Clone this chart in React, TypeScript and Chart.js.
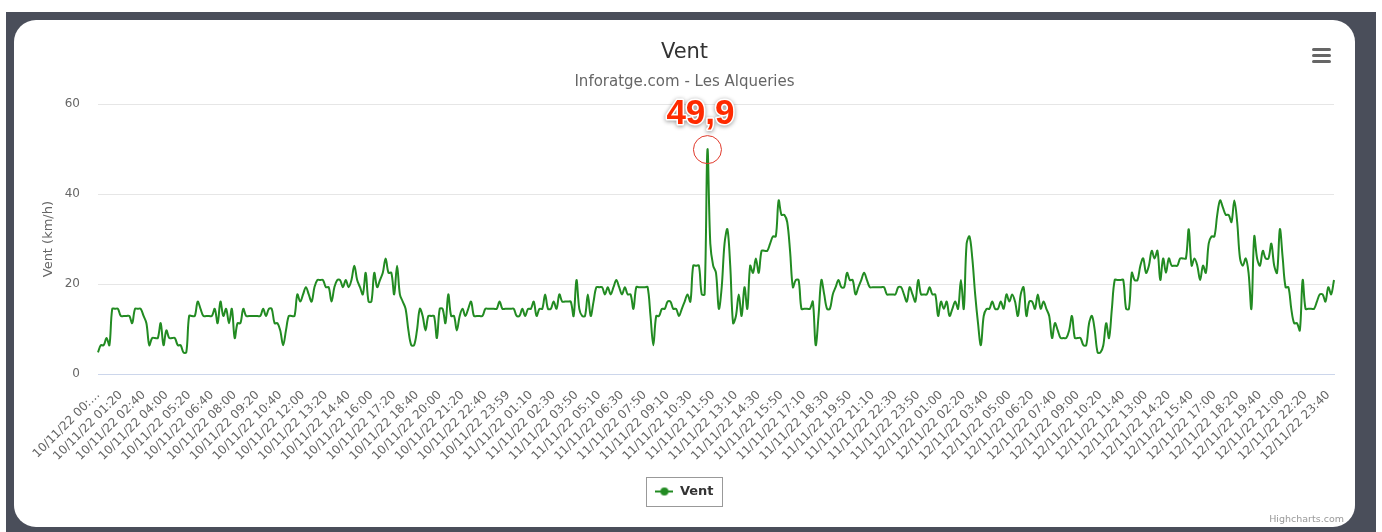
import React, { useEffect, useRef } from 'react';
import { Chart, registerables } from 'chart.js';

Chart.register(...registerables);

const FONT = '"DejaVu Sans", Verdana, sans-serif';
Chart.defaults.font.family = FONT;

const TITLE = 'Vent';
const SUBTITLE = 'Inforatge.com - Les Alqueries';
const SERIES_NAME = 'Vent';
const Y_AXIS_TITLE = 'Vent (km/h)';
const Y_MIN = 0;
const Y_MAX = 60;
const Y_STEP = 20;
const LABEL_STEP = 8;

const TICK_LABELS = [
  '10/11/22 00:…', '10/11/22 01:20', '10/11/22 02:40', '10/11/22 04:00', '10/11/22 05:20',
  '10/11/22 06:40', '10/11/22 08:00', '10/11/22 09:20', '10/11/22 10:40', '10/11/22 12:00',
  '10/11/22 13:20', '10/11/22 14:40', '10/11/22 16:00', '10/11/22 17:20', '10/11/22 18:40',
  '10/11/22 20:00', '10/11/22 21:20', '10/11/22 22:40', '10/11/22 23:59',
  '11/11/22 01:10', '11/11/22 02:30', '11/11/22 03:50', '11/11/22 05:10', '11/11/22 06:30',
  '11/11/22 07:50', '11/11/22 09:10', '11/11/22 10:30', '11/11/22 11:50', '11/11/22 13:10',
  '11/11/22 14:30', '11/11/22 15:50', '11/11/22 17:10', '11/11/22 18:30', '11/11/22 19:50',
  '11/11/22 21:10', '11/11/22 22:30', '11/11/22 23:50',
  '12/11/22 01:00', '12/11/22 02:20', '12/11/22 03:40', '12/11/22 05:00', '12/11/22 06:20',
  '12/11/22 07:40', '12/11/22 09:00', '12/11/22 10:20', '12/11/22 11:40', '12/11/22 13:00',
  '12/11/22 14:20', '12/11/22 15:40', '12/11/22 17:00', '12/11/22 18:20', '12/11/22 19:40',
  '12/11/22 21:00', '12/11/22 22:20', '12/11/22 23:40',
];

// Wind speed (km/h), 10-minute readings
const VALUES_DAY1 = [
  4.8, 6.4, 6.4, 8.0, 6.4, 14.5, 14.5, 14.5, 12.9, 12.9,
  12.9, 12.9, 11.3, 14.5, 14.5, 14.5, 12.9, 11.3, 6.4, 8.0,
  8.0, 8.0, 11.3, 6.4, 9.7, 8.0, 8.0, 8.0, 6.4, 6.4,
  4.8, 4.8, 12.9, 12.9, 12.9, 16.1, 14.5, 12.9, 12.9, 12.9,
  12.9, 14.5, 11.3, 16.1, 12.9, 14.5, 11.3, 14.5, 8.0, 11.3,
  11.3, 14.5, 12.9, 12.9, 12.9, 12.9, 12.9, 12.9, 14.5, 12.9,
  14.5, 14.5, 11.3, 11.3, 9.7, 6.4, 9.7, 12.9, 12.9, 12.9,
  17.7, 16.1, 17.7, 19.3, 17.7, 16.1, 19.3, 20.9, 20.9, 20.9,
  19.3, 19.3, 16.1, 19.3, 20.9, 20.9, 19.3, 20.9, 19.3, 20.9,
  24.1, 20.9, 19.3, 17.7, 22.5, 16.1, 16.1, 22.5, 19.3, 20.9,
  22.5, 25.7, 22.5, 22.5, 17.7, 24.1, 17.7, 16.1, 14.5, 9.7,
  6.4, 6.4, 9.7, 14.5, 12.9, 9.7, 12.9, 12.9, 12.9, 8.0,
  14.5, 14.5, 11.3, 17.7, 12.9, 12.9, 9.7, 12.9, 14.5, 12.9,
  14.5, 16.1, 12.9, 12.9, 12.9, 12.9, 14.5, 14.5, 14.5, 14.5,
  14.5, 16.1, 14.5, 14.5, 14.5,
];
const VALUES_DAY2 = [
  14.5, 14.5, 12.9, 12.9, 14.5, 12.9, 14.5, 14.5, 16.1, 12.9,
  14.5, 14.5, 17.7, 14.5, 14.5, 16.1, 14.5, 17.7, 16.1, 16.1,
  16.1, 16.1, 12.9, 20.9, 14.5, 12.9, 12.9, 17.7, 12.9, 16.1,
  19.3, 19.3, 19.3, 17.7, 19.3, 17.7, 19.3, 20.9, 19.3, 17.7,
  19.3, 17.7, 17.7, 14.5, 19.3, 19.3, 19.3, 19.3, 19.3, 12.9,
  6.4, 12.9, 12.9, 14.5, 14.5, 16.1, 16.1, 14.5, 14.5, 12.9,
  14.5, 16.1, 17.7, 16.1, 24.1, 24.1, 24.1, 17.7, 17.7, 49.9,
  29.0, 24.1, 22.5, 14.5, 19.3, 29.0, 32.2, 24.1, 11.3, 12.9,
  17.7, 12.9, 19.3, 14.5, 24.1, 22.5, 25.7, 22.5, 27.4, 27.4,
  27.4, 29.0, 30.6, 30.6, 38.6, 35.4, 35.4, 33.8, 27.4, 19.3,
  20.9, 20.9, 14.5, 14.5, 14.5, 14.5, 16.1, 6.4, 12.9, 20.9,
  17.7, 14.5, 14.5, 17.7, 19.3, 20.9, 19.3, 19.3, 22.5, 20.9,
  20.9, 17.7, 19.3, 20.9, 22.5, 20.9, 19.3, 19.3, 19.3, 19.3,
  19.3, 19.3, 17.7, 17.7, 17.7, 17.7, 19.3, 19.3, 17.7, 16.1,
  19.3, 17.7, 16.1, 20.9,
];
const VALUES_DAY3 = [
  17.7, 17.7, 17.7, 19.3, 17.7, 17.7, 12.9, 16.1, 14.5, 16.1,
  12.9, 14.5, 16.1, 14.5, 20.9, 14.5, 29.0, 30.6, 25.7, 17.7,
  11.3, 6.4, 12.9, 14.5, 14.5, 16.1, 14.5, 14.5, 16.1, 14.5,
  17.7, 16.1, 17.7, 16.1, 12.9, 17.7, 19.3, 12.9, 16.1, 16.1,
  14.5, 17.7, 14.5, 16.1, 14.5, 12.9, 8.0, 11.3, 9.7, 8.0,
  8.0, 8.0, 9.7, 12.9, 8.0, 8.0, 8.0, 6.4, 6.4, 11.3,
  12.9, 9.7, 4.8, 4.8, 6.4, 11.3, 8.0, 14.5, 20.9, 20.9,
  20.9, 20.9, 14.5, 14.5, 22.5, 20.9, 20.9, 24.1, 25.7, 22.5,
  24.1, 27.4, 25.7, 27.4, 20.9, 25.7, 22.5, 25.7, 24.1, 24.1,
  24.1, 25.7, 25.7, 25.7, 32.2, 24.1, 25.7, 24.1, 20.9, 24.1,
  22.5, 29.0, 30.6, 30.6, 35.4, 38.6, 37.0, 35.4, 35.4, 33.8,
  38.6, 33.8, 25.7, 24.1, 25.7, 22.5, 14.5, 30.6, 25.7, 24.1,
  27.4, 25.7, 25.7, 29.0, 24.1, 22.5, 32.2, 25.7, 19.3, 19.3,
  14.5, 11.3, 11.3, 9.7, 20.9, 14.5, 14.5, 14.5, 14.5, 16.1,
  17.7, 17.7, 16.1, 19.3, 17.7, 20.9,
];

const VALUES = [...VALUES_DAY1, ...VALUES_DAY2, ...VALUES_DAY3];
const CATEGORIES = VALUES.map((_, i) =>
  i % LABEL_STEP === 0 && TICK_LABELS[i / LABEL_STEP] !== undefined ? TICK_LABELS[i / LABEL_STEP] : ''
);
const PEAK_INDEX = VALUES.reduce((best, v, i) => (v > VALUES[best] ? i : best), 0);

const GREEN = '#228b22';
const RED = '#ff2a00';

function makeLegendSymbol(): HTMLCanvasElement {
  const c = document.createElement('canvas');
  c.width = 18;
  c.height = 10;
  const g = c.getContext('2d')!;
  g.strokeStyle = GREEN;
  g.lineWidth = 2;
  g.beginPath();
  g.moveTo(0, 5);
  g.lineTo(18, 5);
  g.stroke();
  g.fillStyle = GREEN;
  g.beginPath();
  g.arc(9, 5, 4, 0, Math.PI * 2);
  g.fill();
  return c;
}

const peakLabelPlugin = {
  id: 'peakLabel',
  afterDatasetsDraw(chart: any) {
    const meta = chart.getDatasetMeta(0);
    const pt = meta.data[PEAK_INDEX];
    if (!pt) return;
    const ctx = chart.ctx as CanvasRenderingContext2D;
    const text = VALUES[PEAK_INDEX].toFixed(1).replace('.', ',');
    const x = pt.x - 7;
    const y = pt.y - 35;
    ctx.save();
    ctx.font = 'bold 35px "Liberation Sans", Arial, sans-serif';
    ctx.textAlign = 'center';
    ctx.textBaseline = 'middle';
    ctx.lineJoin = 'round';
    ctx.shadowColor = 'rgba(0,0,0,0.45)';
    ctx.shadowBlur = 4;
    ctx.shadowOffsetY = 1;
    ctx.lineWidth = 3;
    ctx.strokeStyle = '#ffffff';
    ctx.strokeText(text, x, y);
    ctx.shadowColor = 'transparent';
    ctx.fillStyle = RED;
    ctx.fillText(text, x, y);
    ctx.restore();
  },
};

const legendBoxPlugin = {
  id: 'legendBox',
  afterDraw(chart: any) {
    const lg = chart.legend;
    if (!lg || !lg.legendHitBoxes || !lg.legendHitBoxes.length) return;
    const hb = lg.legendHitBoxes[0];
    const ctx = chart.ctx as CanvasRenderingContext2D;
    const cy = hb.top + hb.height / 2;
    const left = Math.round(hb.left - 9) + 0.5;
    const top = Math.round(cy - 14.5) + 0.5;
    const w = Math.round(hb.width + 18);
    ctx.save();
    ctx.strokeStyle = '#999999';
    ctx.lineWidth = 1;
    ctx.strokeRect(left, top, w, 29);
    ctx.restore();
  },
};

export default function App() {
  const ref = useRef<HTMLCanvasElement | null>(null);

  useEffect(() => {
    if (!ref.current) return;
    const symbol = makeLegendSymbol();
    const chart = new Chart(ref.current, {
      type: 'line',
      data: {
        labels: CATEGORIES,
        datasets: [
          {
            label: SERIES_NAME,
            data: VALUES,
            borderColor: GREEN,
            backgroundColor: GREEN,
            borderWidth: 2,
            tension: 0.35,
            fill: false,
            pointRadius: VALUES.map((_, i) => (i === PEAK_INDEX ? 14 : 0)),
            pointHoverRadius: 0,
            pointBorderColor: '#e0392b',
            pointBackgroundColor: 'rgba(0,0,0,0)',
            pointBorderWidth: 1,
          },
        ],
      },
      options: {
        animation: false,
        responsive: false,
        maintainAspectRatio: false,
        events: [],
        layout: { padding: { left: 21, right: 21, top: 0, bottom: 19 } },
        plugins: {
          title: {
            display: true,
            text: TITLE,
            color: '#333333',
            font: { family: FONT, size: 21, weight: 'normal' },
            padding: { top: 20, bottom: 8 },
          },
          subtitle: {
            display: true,
            text: SUBTITLE,
            color: '#666666',
            font: { family: FONT, size: 15, weight: 'normal' },
            padding: { top: 0, bottom: 13 },
          },
          legend: {
            position: 'bottom',
            labels: {
              usePointStyle: true,
              pointStyleWidth: 18,
              padding: 10,
              color: '#333333',
              font: { family: FONT, size: 13, weight: 'bold' },
              generateLabels: () => [
                {
                  text: SERIES_NAME,
                  pointStyle: symbol,
                  fillStyle: GREEN,
                  strokeStyle: GREEN,
                  lineWidth: 0,
                  hidden: false,
                  datasetIndex: 0,
                  fontColor: '#333333',
                },
              ],
            },
          },
          tooltip: { enabled: false },
        },
        scales: {
          x: {
            grid: { display: false },
            border: { display: true, color: '#ccd6eb', width: 1 },
            ticks: {
              autoSkip: false,
              maxRotation: 45,
              minRotation: 45,
              color: '#666666',
              font: { family: FONT, size: 12 },
              padding: 6,
            },
            afterFit: (s: any) => {
              s.height = 101;
            },
          },
          y: {
            min: Y_MIN,
            max: Y_MAX,
            ticks: { stepSize: Y_STEP, color: '#666666', font: { family: FONT, size: 12 }, padding: 18 },
            grid: {
              drawTicks: false,
              color: (c: any) => (c.tick && c.tick.value === 0 ? '#ccd6eb' : '#e6e6e6'),
            },
            border: { display: false },
            title: {
              display: true,
              text: Y_AXIS_TITLE,
              color: '#666666',
              font: { family: FONT, size: 13 },
              padding: { top: 6, bottom: 0 },
            },
            afterFit: (s: any) => {
              s.width = 63;
            },
          },
        },
      } as any,
      plugins: [peakLabelPlugin, legendBoxPlugin],
    });
    return () => chart.destroy();
  }, []);

  return (
    <div style={{ position: 'absolute', left: 0, top: 0, width: 1382, height: 532, background: '#ffffff', overflow: 'hidden' }}>
      <div style={{ position: 'absolute', left: 6, top: 12, width: 1370, height: 520, background: '#4a4e5a' }} />
      <div
        style={{
          position: 'absolute',
          left: 14,
          top: 20,
          width: 1341,
          height: 507,
          background: '#ffffff',
          borderRadius: 22,
          overflow: 'hidden',
        }}
      >
        <canvas ref={ref} width={1341} height={507} style={{ display: 'block', width: 1341, height: 507 }} />
        <div style={{ position: 'absolute', left: 1298, top: 28, width: 19, height: 15 }}>
          {[0, 6, 12].map((t) => (
            <div
              key={t}
              style={{ position: 'absolute', left: 0, top: t, width: 19, height: 3, borderRadius: 1.5, background: '#666666' }}
            />
          ))}
        </div>
        <div
          style={{
            position: 'absolute',
            right: 11,
            top: 493,
            fontFamily: FONT,
            fontSize: 9.5,
            color: '#999999',
            whiteSpace: 'nowrap',
          }}
        >
          Highcharts.com
        </div>
      </div>
    </div>
  );
}
